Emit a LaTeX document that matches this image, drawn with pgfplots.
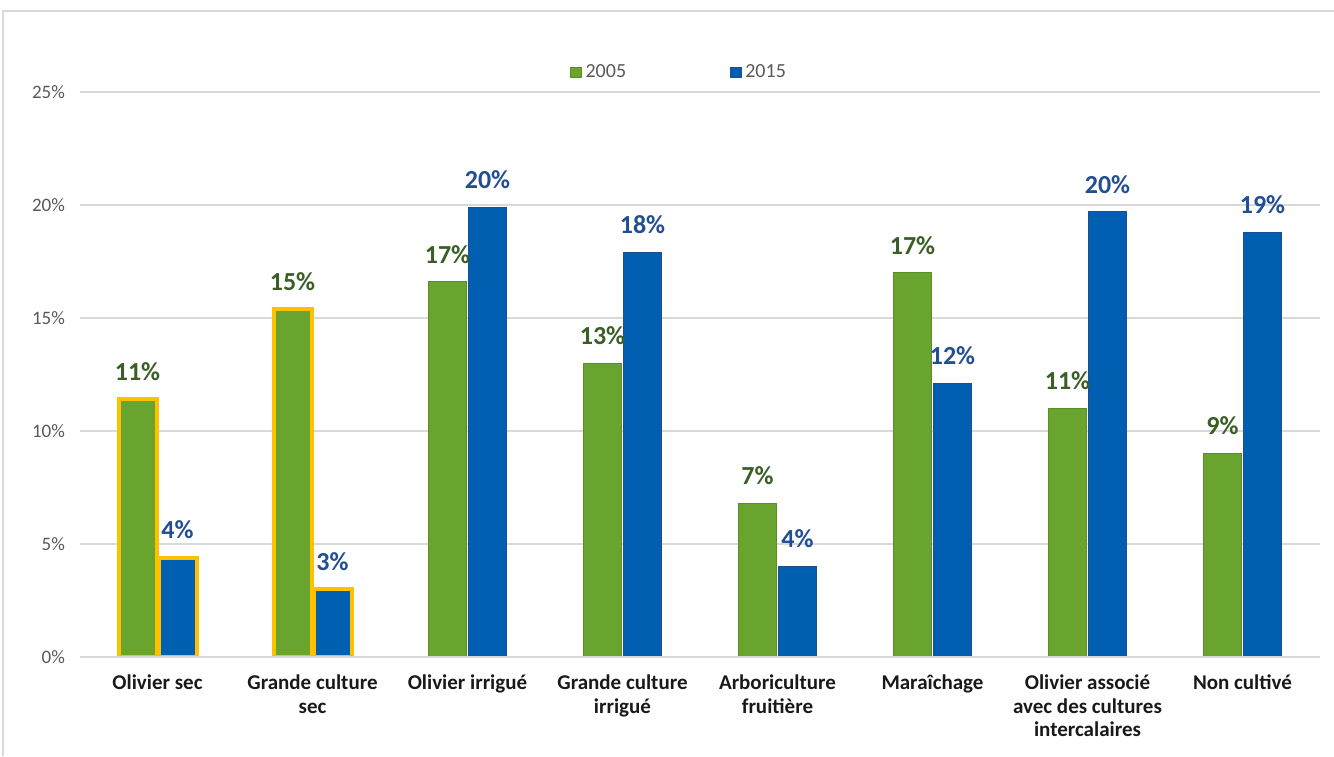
\documentclass[border=0pt]{standalone}
\usepackage{pgfplots}
\pgfplotsset{compat=1.18}
\usepackage{fontspec}
\setmainfont{Carlito}
\definecolor{gfill}{HTML}{69A42F}
\definecolor{gedge}{HTML}{5A8F28}
\definecolor{bfill}{HTML}{005FB0}
\definecolor{bedge}{HTML}{1F4E8C}
\definecolor{glab}{HTML}{3A5F25}
\definecolor{blab}{HTML}{214F92}
\definecolor{yel}{HTML}{FFC000}
\definecolor{gridc}{HTML}{D9D9D9}
\definecolor{txt}{HTML}{595959}
\begin{document}
\begin{tikzpicture}
\useasboundingbox (0,0) rectangle (667pt,378pt);
\draw[gridc, line width=1pt] (1.5pt,0) -- (1.5pt,372.5pt) -- (667pt,372.5pt);
\begin{axis}[
  at={(40pt,49.5pt)}, anchor=south west,
  width=620pt, height=282.5pt, scale only axis,
  xmin=-0.5, xmax=7.5, ymin=0, ymax=25,
  axis line style={draw=none},
  major tick length=0pt,
  ymajorgrids, grid style={gridc, line width=0.8pt},
  ytick={0,5,10,15,20,25},
  yticklabels={0\%,5\%,10\%,15\%,20\%,25\%},
  yticklabel style={font=\fontsize{9.5}{11}\selectfont, text=txt},
  yticklabel shift=4pt,
  xtick={0,...,7},
  xticklabels={Olivier sec,{Grande culture\\sec},Olivier irrigué,{Grande culture\\irrigué},{Arboriculture\\fruitière},Maraîchage,{Olivier associé\\avec des cultures\\intercalaires},Non cultivé},
  xticklabel style={font=\fontsize{10.5}{11.75}\selectfont\bfseries, align=center, text=black!90},
  xticklabel shift=5.5pt,
  /pgf/number format/assume math mode=true,
  legend columns=2,
  legend style={at={(0.484,1.035)}, anchor=center, draw=none, fill=none,
    font=\fontsize{10}{12}\selectfont, text=txt,
    /tikz/every even column/.append style={column sep=50pt}},
  legend image code/.code={\fill[#1] (0pt,-2.6pt) rectangle (5.2pt,2.6pt);},
  nodes near coords={\pgfmathprintnumber[fixed,precision=0]{\pgfplotspointmeta}\%},
  nodes near coords style={font=\fontsize{13}{13}\selectfont\bfseries, anchor=south, inner sep=0pt, yshift=9pt},
]
\addplot[ybar, bar width=19pt, bar shift=-10pt, fill=gfill, draw=gedge, line width=0.4pt,
  every node near coord/.append style={text=glab, xshift=-10pt}]
  coordinates {(0,11.4) (1,15.4) (2,16.6) (3,13.0) (4,6.8) (5,17.0) (6,11.0) (7,9.0)};
\addlegendentry{2005}
\addplot[ybar, bar width=19pt, bar shift=10pt, fill=bfill, draw=bedge, line width=0.4pt,
  every node near coord/.append style={text=blab, xshift=10pt}]
  coordinates {(0,4.4) (1,3.0) (2,19.9) (3,17.9) (4,4.0) (5,12.1) (6,19.7) (7,18.8)};
\addlegendentry{2015}
\addplot[ybar, bar width=19pt, bar shift=-10pt, fill=none, draw=yel, line width=2pt, forget plot, nodes near coords={}]
  coordinates {(0,11.4) (1,15.4)};
\addplot[ybar, bar width=19pt, bar shift=10pt, fill=none, draw=yel, line width=2pt, forget plot, nodes near coords={}]
  coordinates {(0,4.4) (1,3.0)};
\draw[gridc, line width=1pt] (axis cs:-0.5,0) -- (axis cs:7.5,0);
\end{axis}
\end{tikzpicture}
\end{document}
